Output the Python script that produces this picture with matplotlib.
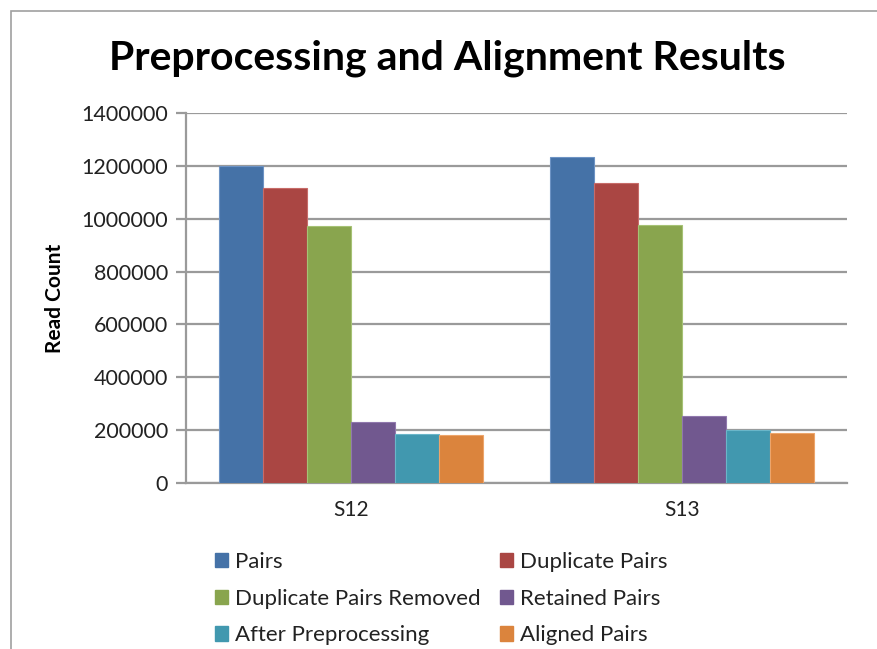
import numpy as np
import matplotlib as mpl
import matplotlib.pyplot as plt
from matplotlib.patches import Rectangle, Patch

mpl.rcParams['font.family'] = ['Lato', 'DejaVu Sans']

samples = ['S12', 'S13']
series = ['Pairs', 'Duplicate Pairs', 'Duplicate Pairs Removed',
          'Retained Pairs', 'After Preprocessing', 'Aligned Pairs']
pairs = [1198000, 1234000]
dup_pairs = [1116000, 1137000]
dup_removed = [971000, 978000]
retained = [230700, 252000]
after_prep = [184000, 199000]
aligned = [183500, 190000]
colors = ['#4572A7', '#AA4643', '#89A54E', '#71588F', '#4198AF', '#DB843D']
edges = ['#6d93c4', '#c76b68', '#a6c275', '#9078ad', '#6ab6c9', '#eda56b']

values = [pairs, dup_pairs, dup_removed, retained, after_prep, aligned]

fig = plt.figure(figsize=(8.77, 6.49), dpi=100)
ax = fig.add_axes([186/877, 1-483/649, (847-186)/877, (483-113)/649])

x = np.arange(len(samples))
w = 0.8/6
for i, vals in enumerate(values):
    ax.bar(x - 0.4 + w*(i+0.5), vals, w, color=colors[i], edgecolor=edges[i],
           linewidth=0.8, label=series[i], zorder=3)

ax.set_xlim(-0.5, 1.5)
ax.set_ylim(0, 1400000)
ax.set_yticks(np.arange(0, 1400001, 200000))
ax.set_yticklabels([str(v) for v in range(0, 1400001, 200000)])
ax.set_xticks(x)
ax.set_xticklabels(samples)
ax.yaxis.grid(True, color='#9a9a9a', linewidth=1.6, zorder=0)
for s in ['top', 'right']:
    ax.spines[s].set_visible(False)
for s in ['left', 'bottom']:
    ax.spines[s].set_color('#9a9a9a')
    ax.spines[s].set_linewidth(1.6)
ax.tick_params(axis='y', length=7, width=1.6, color='#9a9a9a', labelsize=15.5,
               pad=6, labelcolor='#222222')
ax.tick_params(axis='x', length=0, labelsize=15, pad=12, labelcolor='#222222')
ax.set_ylabel('Read Count', fontsize=15, fontweight='bold', labelpad=12)

fig.text(447/877, 1-58/649, 'Preprocessing and Alignment Results', ha='center',
         va='center', fontsize=29.5, fontweight='bold')

# legend in two columns, row-wise like the original
for col, x0 in enumerate([215, 500]):
    idx = [col, col + 2, col + 4]
    handles = [Patch(facecolor=colors[i], edgecolor=colors[i]) for i in idx]
    leg = fig.legend(handles, [series[i] for i in idx], loc='upper left',
                     bbox_to_anchor=(x0/877, 1-552/649), frameon=False,
                     fontsize=16, handlelength=0.6, handleheight=0.6,
                     handletextpad=0.3, labelspacing=0.75, borderpad=0,
                     borderaxespad=0, labelcolor='#222222')

fig.patches.append(Rectangle((11/877, -0.1), 1.2, 1-11/649 + 0.1,
                             transform=fig.transFigure, fill=False,
                             edgecolor='#a0a0a0', linewidth=1.2))

fig.savefig('out.png', dpi=100)
